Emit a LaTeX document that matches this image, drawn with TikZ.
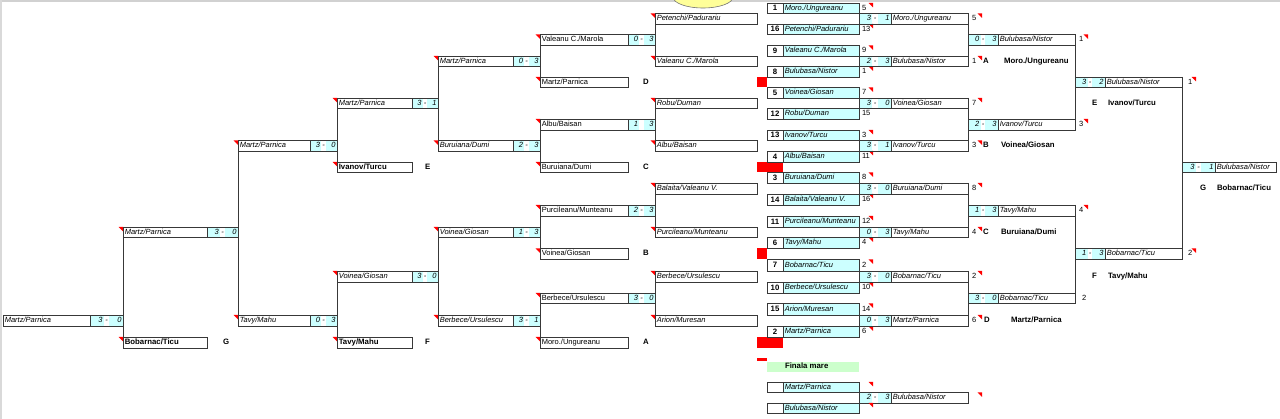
\documentclass[tikz,border=0pt]{standalone}
\usepackage{fontspec}
\setmainfont{Liberation Sans}
\definecolor{cy}{HTML}{CCFFFF}
\definecolor{gr}{HTML}{CCFFCC}
\definecolor{yl}{HTML}{FFFF99}
\def\rowtops{{3,13.5,24,34.5,45.5,56,66.5,77,87.5,98,108.5,119,130,140.5,151,162,172.5,183,194,205,216,227,237.5,248.5,259.5,271,282.5,293,303.5,315,326.5,337,348,361.5,372,382,392.5,403,413.5}}
\newcommand\fI{\fontsize{7.5}{8}\selectfont\itshape}
\newcommand\fR{\fontsize{7.5}{8}\selectfont}
\newcommand\fB{\fontsize{7.8}{8}\selectfont\bfseries}
\newcommand\getrow[1]{\pgfmathsetmacro\yT{\rowtops[#1]}\pgfmathsetmacro\yB{\rowtops[#1+1]}\pgfmathsetmacro\yM{(\yT+\yB)/2}}
\newcommand\cbox[7]{%
 \getrow{#4}%
 \pgfmathsetmacro\mywd{#3-(#2)}%
 \pgfmathsetmacro\myht{\yB-\yT}%
 \node[cellbase,#5,minimum width=\mywd pt,minimum height=\myht pt,anchor=north west] (#1) at (#2,\yT) {};%
 \node[#6,anchor=west] (#1t) at (#2+1.8,\yM) {#7};%
}
\newcommand\scorecell[7]{%
 \getrow{#4}%
 \pgfmathsetmacro\myxa{#2+0.42*(#3-(#2))}%
 \pgfmathsetmacro\myxb{#2+0.58*(#3-(#2))}%
 \pgfmathsetmacro\mywd{#3-(#2)}%
 \pgfmathsetmacro\myht{\yB-\yT}%
 \fill[cy] (#2,\yT) rectangle (\myxa,\yB);%
 \fill[cy] (\myxb,\yT) rectangle (#3,\yB);%
 \node[cellbase,minimum width=\mywd pt,minimum height=\myht pt,anchor=north west] (#1) at (#2,\yT) {};%
 \node[txt,anchor=east] (#1a) at (\myxa-1.3,\yM) {#5};%
 \node[txt] (#1d) at ({(\myxa+\myxb)/2},\yM) {#6};%
 \node[txt,anchor=east] (#1b) at (#3-1.5,\yM) {#7};%
}
\newcommand\wmatch[8]{\scorecell{#1s}{#3}{#4}{#2}{#6}{-}{#7}\cbox{#1}{#4}{#5}{#2}{}{txt}{#8}}
\newcommand\lmatch[9]{\cbox{#1}{#3}{#4}{#2}{}{#6}{#7}\scorecell{#1s}{#4}{#5}{#2}{#8}{-}{#9}}
\newcommand\onum[4]{\getrow{#3}\node[txtup,anchor=west] (#1) at (#2,\yM) {#4};}
\newcommand\lbl[4]{\getrow{#3}\node[txtb,anchor=west] (#1) at (#2,\yM) {#4};}
\newcommand\rtri[2]{\getrow{#2}\fill[red] (#1-4.5,\yT) -- (#1,\yT) -- (#1,\yT+4.5) -- cycle;}
\newcommand\redblk[3]{\getrow{#3}\fill[red] (#1,\yT) rectangle (#2,\yB);}
\newcommand\seed[5]{%
 \getrow{#2}\pgfmathsetmacro\myht{\yB-\yT}%
 \node[cellbase,minimum width=16pt,minimum height=\myht pt,anchor=north west,font=\fB] (#1n) at (767,\yT) {#3};%
 \cbox{#1}{783}{859}{#2}{fill=cy}{txt}{#4}%
 \onum{#1o}{862}{#2}{#5}}
\begin{document}
\begin{tikzpicture}[x=1pt,y=-1pt,
 cellbase/.style={draw=black!78, line width=0.85pt, inner sep=0pt, outer sep=0pt},
 txt/.style={inner sep=0pt, outer sep=0pt, font=\fI, text height=5.4pt, text depth=1.6pt},
 txtup/.style={txt, font=\fR},
 txtb/.style={txt, font=\fB},
 conn/.style={draw=black!78, line width=0.85pt}]
\useasboundingbox (0,0) rectangle (1280,419);
\clip (0,0) rectangle (1280,419);
\fill[white] (0,0) rectangle (1280,419);
% spreadsheet frame
\draw[black!18, line width=2pt] (0,1.5) -- (1280,1.5);
\draw[black!15, line width=1.5pt] (1.2,0) -- (1.2,419);
\draw[fill=yl, draw=black!55, line width=0.6pt] (703,-3) ellipse [x radius=30pt, y radius=11pt];
% red blocks
\redblk{757}{767}{7}
\redblk{757}{783}{15}
\redblk{757}{767}{23}
\redblk{757}{783}{31}
\fill[red] (757,358.5) rectangle (767,361);
% seeds
\seed{s1}{0}{1}{Moro./Ungureanu}{5}
\seed{s16}{2}{16}{Petenchi/Padurariu}{13}
\seed{s9}{4}{9}{Valeanu C./Marola}{9}
\seed{s8}{6}{8}{Bulubasa/Nistor}{1}
\seed{s5}{8}{5}{Voinea/Giosan}{7}
\seed{s12}{10}{12}{Robu/Duman}{15}
\seed{s13}{12}{13}{Ivanov/Turcu}{3}
\seed{s4}{14}{4}{Albu/Baisan}{11}
\seed{s3}{16}{3}{Buruiana/Dumi}{8}
\seed{s14}{18}{14}{Balaita/Valeanu V.}{16}
\seed{s11}{20}{11}{Purcileanu/Munteanu}{12}
\seed{s6}{22}{6}{Tavy/Mahu}{4}
\seed{s7}{24}{7}{Bobarnac/Ticu}{2}
\seed{s10}{26}{10}{Berbece/Ursulescu}{10}
\seed{s15}{28}{15}{Arion/Muresan}{14}
\seed{s2}{30}{2}{Martz/Parnica}{6}
\foreach \r in {0,2,4,6,8,12,14,16,18,20,22,24,26,28,30} {\rtri{873}{\r}}
% winners round 1
\wmatch{w1}{1}{859}{891}{968}{3}{1}{Moro./Ungureanu}
\wmatch{w5}{5}{859}{891}{968}{2}{3}{Bulubasa/Nistor}
\wmatch{w9}{9}{859}{891}{968}{3}{0}{Voinea/Giosan}
\wmatch{w13}{13}{859}{891}{968}{3}{1}{Ivanov/Turcu}
\wmatch{w17}{17}{859}{891}{968}{3}{0}{Buruiana/Dumi}
\wmatch{w21}{21}{859}{891}{968}{0}{3}{Tavy/Mahu}
\wmatch{w25}{25}{859}{891}{968}{3}{0}{Bobarnac/Ticu}
\wmatch{w29}{29}{859}{891}{968}{0}{3}{Martz/Parnica}
\onum{w1o}{972}{1}{5}
\onum{w5o}{972}{5}{1}
\onum{w9o}{972}{9}{7}
\onum{w13o}{972}{13}{3}
\onum{w17o}{972}{17}{8}
\onum{w21o}{972}{21}{4}
\onum{w25o}{972}{25}{2}
\onum{w29o}{972}{29}{6}
\foreach \r in {1,5,9,13,17,21,25,29} {\rtri{982}{\r}}
\draw[conn] (w1.north east) -- (w5.south east);
\draw[conn] (w9.north east) -- (w13.south east);
\draw[conn] (w17.north east) -- (w21.south east);
\draw[conn] (w25.north east) -- (w29.south east);
\lbl{la}{983}{5}{A}\lbl{lan}{1004}{5}{Moro./Ungureanu}
\lbl{lb}{983}{13}{B}\lbl{lbn}{1001}{13}{Voinea/Giosan}
\lbl{lc}{983}{21}{C}\lbl{lcn}{1001}{21}{Buruiana/Dumi}
\lbl{ld}{984}{29}{D}\lbl{ldn}{1011}{29}{Martz/Parnica}
% winners round 2
\wmatch{v3}{3}{968}{998}{1075}{0}{3}{Bulubasa/Nistor}
\wmatch{v11}{11}{968}{998}{1075}{2}{3}{Ivanov/Turcu}
\wmatch{v19}{19}{968}{998}{1075}{1}{3}{Tavy/Mahu}
\wmatch{v27}{27}{968}{998}{1075}{3}{0}{Bobarnac/Ticu}
\onum{v3o}{1079}{3}{1}
\onum{v11o}{1079}{11}{3}
\onum{v19o}{1079}{19}{4}
\onum{v27o}{1082}{27}{2}
\foreach \r in {3,11,19} {\rtri{1088}{\r}}
\draw[conn] (v3.north east) -- (v11.south east);
\draw[conn] (v19.north east) -- (v27.south east);
\lbl{le}{1092}{9}{E}\lbl{len}{1108}{9}{Ivanov/Turcu}
\lbl{lf}{1092}{25}{F}\lbl{lfn}{1108}{25}{Tavy/Mahu}
% winners round 3
\wmatch{u7}{7}{1075}{1105}{1182}{3}{2}{Bulubasa/Nistor}
\wmatch{u23}{23}{1075}{1105}{1182}{1}{3}{Bobarnac/Ticu}
\onum{u7o}{1188}{7}{1}
\onum{u23o}{1188}{23}{2}
\foreach \r in {7,23} {\rtri{1196}{\r}}
\draw[conn] (u7.north east) -- (u23.south east);
% final
\wmatch{fin}{15}{1182}{1215}{1276}{3}{1}{Bulubasa/Nistor}
\lbl{lg}{1200}{17}{G}\lbl{lgn}{1217}{17}{Bobarnac/Ticu}
% losers column 1
\cbox{a1}{655}{757}{1}{}{txt}{Petenchi/Padurariu}
\cbox{a5}{655}{757}{5}{}{txt}{Valeanu C./Marola}
\cbox{a9}{655}{757}{9}{}{txt}{Robu/Duman}
\cbox{a13}{655}{757}{13}{}{txt}{Albu/Baisan}
\cbox{a17}{655}{757}{17}{}{txt}{Balaita/Valeanu V.}
\cbox{a21}{655}{757}{21}{}{txt}{Purcileanu/Munteanu}
\cbox{a25}{655}{757}{25}{}{txt}{Berbece/Ursulescu}
\cbox{a29}{655}{757}{29}{}{txt}{Arion/Muresan}
\foreach \r in {1,5,9,13,17,21,25,29} {\rtri{655}{\r}}
\draw[conn] (a1.north west) -- (a5.south west);
\draw[conn] (a9.north west) -- (a13.south west);
\draw[conn] (a17.north west) -- (a21.south west);
\draw[conn] (a25.north west) -- (a29.south west);
% losers column 2
\lmatch{b3}{3}{540}{628}{655}{txtup}{Valeanu C./Marola}{0}{3}
\cbox{b7}{540}{628}{7}{}{txtup}{Martz/Parnica}
\cbox{b11}{540}{628}{11}{}{txtup}{Albu/Baisan}\scorecell{b11s}{628}{655}{11}{1}{}{3}
\cbox{b15}{540}{628}{15}{}{txtup}{Buruiana/Dumi}
\lmatch{b19}{19}{540}{628}{655}{txtup}{Purcileanu/Munteanu}{2}{3}
\cbox{b23}{540}{628}{23}{}{txtup}{Voinea/Giosan}
\lmatch{b27}{27}{540}{628}{655}{txtup}{Berbece/Ursulescu}{3}{0}
\cbox{b31}{540}{628}{31}{}{txtup}{Moro./Ungureanu}
\foreach \r in {3,7,11,15,19,23,27,31} {\rtri{540}{\r}}
\draw[conn] (b3.north west) -- (b7.south west);
\draw[conn] (b11.north west) -- (b15.south west);
\draw[conn] (b19.north west) -- (b23.south west);
\draw[conn] (b27.north west) -- (b31.south west);
\lbl{ld2}{643}{7}{D}
\lbl{lc2}{643}{15}{C}
\lbl{lb2}{643}{23}{B}
\lbl{la2}{643}{31}{A}
% losers column 3
\lmatch{c5}{5}{438}{513}{540}{txt}{Martz/Parnica}{0}{3}
\lmatch{c13}{13}{438}{513}{540}{txt}{Buruiana/Dumi}{2}{3}
\lmatch{c21}{21}{438}{513}{540}{txt}{Voinea/Giosan}{1}{3}
\lmatch{c29}{29}{438}{513}{540}{txt}{Berbece/Ursulescu}{3}{1}
\foreach \r in {5,13,21,29} {\rtri{438}{\r}}
\draw[conn] (c5.north west) -- (c13.south west);
\draw[conn] (c21.north west) -- (c29.south west);
% losers column 4
\lmatch{d9}{9}{337}{412}{438}{txt}{Martz/Parnica}{3}{1}
\cbox{d15}{337}{412}{15}{}{txtb}{Ivanov/Turcu}
\lmatch{d25}{25}{337}{412}{438}{txt}{Voinea/Giosan}{3}{0}
\cbox{d31}{337}{412}{31}{}{txtb}{Tavy/Mahu}
\foreach \r in {9,15,25,31} {\rtri{337}{\r}}
\draw[conn] (d9.north west) -- (d15.south west);
\draw[conn] (d25.north west) -- (d31.south west);
\lbl{le2}{425}{15}{E}
\lbl{lf2}{425}{31}{F}
% losers column 5
\lmatch{e13}{13}{238}{310}{337}{txt}{Martz/Parnica}{3}{0}
\lmatch{e29}{29}{238}{310}{337}{txt}{Tavy/Mahu}{0}{3}
\foreach \r in {13,29} {\rtri{238}{\r}}
\draw[conn] (e13.north west) -- (e29.south west);
% losers column 6
\lmatch{f21}{21}{123}{207}{238}{txt}{Martz/Parnica}{3}{0}
\cbox{f31}{123}{207}{31}{}{txtb}{Bobarnac/Ticu}
\foreach \r in {21,31} {\rtri{123}{\r}}
\draw[conn] (f21.north west) -- (f31.south west);
\lbl{lg2}{223}{31}{G}
% losers final
\lmatch{g29}{29}{3}{90}{123}{txt}{Martz/Parnica}{3}{0}
% grand final
\getrow{33}
\node[fill=gr, minimum width=92pt, minimum height=10.5pt, inner sep=0pt, anchor=north west] (fm) at (767,\yT) {};
\node[txtb, anchor=west] (fmt) at (785,\yM) {Finala mare};
\seed{gf1}{35}{}{Martz/Parnica}{}
\wmatch{gf}{36}{859}{891}{968}{2}{3}{Bulubasa/Nistor}
\seed{gf2}{37}{}{Bulubasa/Nistor}{}
\rtri{873}{35}
\rtri{873}{37}
\rtri{982}{36}
\end{tikzpicture}
\end{document}
